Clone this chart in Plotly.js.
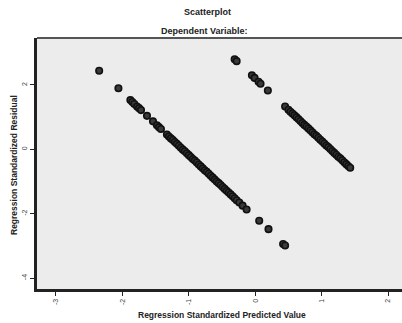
<!DOCTYPE html>
<html><head><meta charset="utf-8">
<script src="https://cdn.plot.ly/plotly-3.0.1.min.js"></script>
<style>html,body{margin:0;padding:0;background:#fff;overflow:hidden}</style>
</head><body><div id="chart" style="width:402px;height:323px"></div>
<script>
// Lower band (predicted, residual)
const predA = [-2.35,-2.06,-1.88,-1.85,-1.82,-1.78,-1.75,-1.72,-1.63,-1.54,-1.48,-1.45,-1.42,
 -1.33,-1.30,-1.27,-1.24,-1.21,-1.18,-1.15,-1.12,-1.09,-1.06,-1.03,-1.00,-0.97,-0.94,-0.91,-0.88,
 -0.85,-0.82,-0.79,-0.76,-0.73,-0.70,-0.67,-0.64,-0.61,-0.58,-0.55,-0.52,-0.49,-0.46,-0.43,-0.40,
 -0.37,-0.34,-0.31,-0.28,-0.24,-0.19,-0.13,0.06,0.20,0.42,0.45];
const residA = [2.44,1.90,1.53,1.47,1.41,1.33,1.28,1.22,1.04,0.87,0.75,0.69,0.63,
 0.46,0.40,0.34,0.29,0.23,0.17,0.11,0.05,-0.01,-0.06,-0.12,-0.18,-0.24,-0.30,-0.35,-0.41,
 -0.47,-0.53,-0.59,-0.65,-0.70,-0.76,-0.82,-0.88,-0.94,-1.00,-1.05,-1.11,-1.17,-1.23,-1.29,-1.34,
 -1.40,-1.46,-1.52,-1.58,-1.65,-1.75,-1.87,-2.22,-2.48,-2.94,-2.99];
// Upper band
const predB = [-0.31,-0.28,-0.05,-0.01,0.05,0.08,0.19,
 0.45,0.50,0.53,0.56,0.59,0.62,0.65,0.68,0.71,0.74,0.77,0.80,0.83,0.86,0.89,0.92,0.95,0.98,
 1.01,1.04,1.07,1.10,1.13,1.16,1.19,1.22,1.25,1.28,1.31,1.34,1.37,1.40,1.43];
const residB = [2.80,2.74,2.30,2.22,2.10,2.04,1.83,
 1.33,1.23,1.17,1.11,1.06,1.00,0.94,0.88,0.82,0.76,0.71,0.65,0.59,0.53,0.47,0.42,0.36,0.30,
 0.24,0.18,0.12,0.07,0.01,-0.05,-0.11,-0.17,-0.23,-0.28,-0.34,-0.40,-0.46,-0.52,-0.57];
const xTicks = [-3,-2,-1,0,1,2];
const yTicks = [2,0,-2,-4];

const F = 'Liberation Sans, Arial, sans-serif';
const mk = {symbol:'circle', size:6.5, color:'#3a3a3a', line:{width:1.6, color:'#111'}};
const data = [
 {x:predA, y:residA, type:'scatter', mode:'markers', marker:mk, hoverinfo:'skip'},
 {x:predB, y:residB, type:'scatter', mode:'markers', marker:mk, hoverinfo:'skip'}
];
const layout = {
 width:402, height:323,
 margin:{l:37, r:0, t:38, b:34},
 paper_bgcolor:'#ffffff', plot_bgcolor:'#ececec',
 showlegend:false,
 font:{family:F, size:7, color:'#333'},
 xaxis:{range:[-3.286,2.21], tickvals:xTicks, ticktext:xTicks.map(String), tickangle:-90,
   showgrid:false, zeroline:false, showline:true, linecolor:'#222', linewidth:3,
   ticks:'outside', ticklen:4, tickcolor:'#222', tickwidth:1, tickfont:{size:7,color:'#444'}},
 yaxis:{range:[-4.34,3.46], tickvals:yTicks, ticktext:yTicks.map(String), tickangle:-90,
   showgrid:false, zeroline:false, showline:true, linecolor:'#222', linewidth:3,
   ticks:'outside', ticklen:4, tickcolor:'#222', tickwidth:1, tickfont:{size:7,color:'#444'}},
 shapes:[{type:'line', xref:'paper', yref:'paper', x0:0, x1:1, y0:1, y1:1, line:{color:'#555', width:2}}],
 annotations:[
  {text:'<b>Scatterplot</b>', xref:'paper', yref:'paper', x:0.466, y:1, yshift:26, showarrow:false,
   xanchor:'center', yanchor:'middle', font:{family:F, size:9, color:'#222'}},
  {text:'<b>Dependent Variable:</b>', xref:'paper', yref:'paper', x:0.46, y:1, yshift:7, showarrow:false,
   xanchor:'center', yanchor:'middle', font:{family:F, size:9, color:'#222'}},
  {text:'<b>Regression Standardized Predicted Value</b>', xref:'paper', yref:'paper', x:0.507, y:0, yshift:-26,
   showarrow:false, xanchor:'center', yanchor:'middle', font:{family:F, size:8.5, color:'#222'}},
  {text:'<b>Regression Standardized Residual</b>', xref:'paper', yref:'paper', x:0, xshift:-23, y:0.494,
   textangle:-90, showarrow:false, xanchor:'center', yanchor:'middle', font:{family:F, size:8.5, color:'#222'}}
 ]
};
Plotly.newPlot('chart', data, layout, {staticPlot:true, displayModeBar:false});
</script></body></html>
